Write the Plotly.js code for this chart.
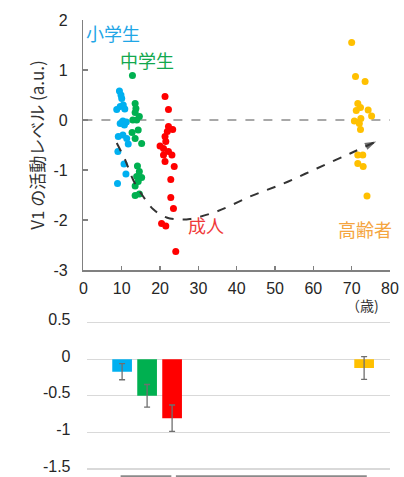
<!DOCTYPE html>
<html>
<head>
<meta charset="utf-8">
<script src="https://cdn.plot.ly/plotly-3.0.1.min.js"></script>
<style>html,body{margin:0;padding:0;background:#fff;}#chart{width:404px;height:477px;}</style>
</head>
<body>
<div id="chart"></div>
<script>
// ---- data ----
const elemX = [9.4, 9.8, 10.0, 8.7, 9.6, 10.4, 10.8, 10.3, 10.7, 9.6, 11.2, 9.1, 10.3, 11.3, 11.7, 9.0, 10.6, 11.1, 8.9];
const elemY = [0.58, 0.50, 0.43, 0.21, 0.27, 0.30, 0.22, -0.02, -0.10, -0.07, -0.04, -0.33, -0.30, -0.37, -0.48, -0.63, -0.88, -1.08, -1.27];
const juniorX = [12.8, 13.5, 13.7, 13.5, 14.6, 13.9, 12.9, 14.3, 12.7, 13.5, 15.2, 14.1, 14.6, 15.2, 13.9, 14.3, 13.5, 14.6, 13.5];
const juniorY = [0.89, 0.33, 0.23, 0.15, 0.07, 0.00, 0.00, -0.20, -0.25, -0.37, -0.47, -0.92, -1.03, -1.15, -1.13, -1.23, -1.32, -1.48, -1.51];
const adultX = [21.3, 22.2, 22.2, 23.3, 21.9, 21.3, 21.5, 20.0, 20.9, 22.2, 23.1, 20.9, 21.3, 23.7, 22.8, 22.8, 23.5, 20.4, 21.5, 24.1];
const adultY = [0.47, 0.21, -0.13, -0.19, -0.23, -0.33, -0.43, -0.52, -0.57, -0.63, -0.70, -0.70, -0.83, -0.93, -1.19, -1.55, -1.77, -2.07, -2.12, -2.63];
const elderX = [70.0, 71.0, 73.5, 71.6, 72.3, 71.2, 74.3, 75.2, 72.4, 70.7, 72.0, 72.3, 71.6, 72.9, 71.6, 73.0, 74.0];
const elderY = [1.55, 0.87, 0.77, 0.33, 0.25, 0.19, 0.20, 0.08, 0.03, -0.02, -0.07, -0.19, -0.70, -0.70, -0.87, -0.93, -1.52];

const trendX = [8.7, 10.9, 13.0, 15.6, 18.3, 21.7, 25.2, 27.8, 34.8, 43.5, 52.2, 60.9, 69.6, 76.4];
const trendY = [-0.46, -0.80, -1.20, -1.53, -1.79, -1.95, -1.99, -1.98, -1.83, -1.53, -1.27, -0.97, -0.67, -0.43];

const groupNames = ['小学生', '中学生', '成人', '高齢者'];
const groupColors = ['#00b0f0', '#00b050', '#ff0000', '#ffc000'];
const labelColors = ['#1fa6e6', '#12a84e', '#f03a3a', '#f5a540'];
const barX = [9.4, 16.0, 22.6, 73.3];
const barMeans = [-0.17, -0.50, -0.805, -0.12];
const barErrors = [0.11, 0.155, 0.18, 0.155];

const topYTicks = [-3, -2, -1, 0, 1, 2];
const topYTickText = ['-3', '-2', '-1', '0', '1', '2'];
const topXTicks = [0, 10, 20, 30, 40, 50, 60, 70, 80];
const botYTicks = [-1.5, -1, -0.5, 0, 0.5];
const botYTickText = ['-1.5', '-1', '-0.5', '0', '0.5'];

// ---- layout helpers ----
const W = 404, H = 477;
const px = v => v / W;
const py = v => 1 - v / H;
const latin = 'Liberation Sans, Arial, sans-serif';
const cjk = 'Noto Sans CJK JP, sans-serif';

function pts(x, y, c, name) {
  return {type: 'scatter', mode: 'markers', x: x, y: y, name: name,
    marker: {color: c, size: 7}, xaxis: 'x', yaxis: 'y', showlegend: false, hoverinfo: 'skip'};
}

const arrowSizes = trendX.map((v, i) => i === trendX.length - 1 ? 12 : 0);

const traces = [
  {type: 'scatter', mode: 'lines', x: [0, 80], y: [0, 0], line: {color: '#8c8c8c', width: 1.3, dash: 'dash'},
   xaxis: 'x', yaxis: 'y', showlegend: false, hoverinfo: 'skip'},
  pts(elemX, elemY, groupColors[0], groupNames[0]),
  pts(juniorX, juniorY, groupColors[1], groupNames[1]),
  pts(adultX, adultY, groupColors[2], groupNames[2]),
  pts(elderX, elderY, groupColors[3], groupNames[3]),
  {type: 'scatter', mode: 'lines+markers', x: trendX, y: trendY,
   line: {color: '#333333', width: 2, dash: 'dash', shape: 'spline'},
   marker: {symbol: 'arrow', angleref: 'previous', size: arrowSizes, color: '#333333', line: {width: 0}},
   xaxis: 'x', yaxis: 'y', showlegend: false, hoverinfo: 'skip'},
  {type: 'bar', x: barX, y: barMeans, width: 5.2, marker: {color: groupColors, line: {width: 0}},
   error_y: {type: 'data', array: barErrors, visible: true, color: '#6f6f6f', thickness: 1.3, width: 3},
   xaxis: 'x2', yaxis: 'y2', showlegend: false, hoverinfo: 'skip'}
];

const axisFont = {family: latin, size: 16, color: '#262626'};

const layout = {
  width: W, height: H,
  margin: {l: 0, r: 0, t: 0, b: 0},
  paper_bgcolor: '#ffffff', plot_bgcolor: 'rgba(0,0,0,0)',
  showlegend: false,
  xaxis: {domain: [px(83.4), px(390)], range: [0, 80], tickvals: topXTicks, ticks: 'inside', ticklen: 4,
    tickcolor: '#808080', tickwidth: 1.2, showline: true, linecolor: '#808080', linewidth: 1.5,
    showgrid: false, zeroline: false, anchor: 'y', tickfont: axisFont, ticklabelstandoff: 3},
  yaxis: {domain: [py(270), py(20)], range: [-3, 2], tickvals: topYTicks, ticktext: topYTickText,
    ticks: 'inside', ticklen: 5, tickcolor: '#808080', tickwidth: 1.2, showline: true, linecolor: '#808080',
    linewidth: 1.5, showgrid: false, zeroline: false, anchor: 'x', tickfont: axisFont, ticklabelstandoff: 11,
    title: {text: 'V1 の活動レベル (a.u.)', font: {family: cjk, size: 17, color: '#333333'}, standoff: 4}},
  xaxis2: {domain: [px(86.5), px(389.5)], range: [0, 80], visible: false, anchor: 'y2'},
  yaxis2: {domain: [py(470.5), py(321.2)], range: [-1.52, 0.52], tickvals: botYTicks, ticktext: botYTickText,
    showgrid: true, gridcolor: '#d9d9d9', gridwidth: 1.2, zeroline: true, zerolinecolor: '#d9d9d9', zerolinewidth: 1.2,
    showline: false, ticks: '', anchor: 'x2', tickfont: axisFont, ticklabelstandoff: 15,
    ticklabeloverflow: 'allow', ticklabelshift: -3},
  annotations: [
    {x: 7.7, y: 1.74, xref: 'x', yref: 'y', text: groupNames[0], showarrow: false, font: {family: cjk, size: 18, color: labelColors[0]}},
    {x: 16.7, y: 1.2, xref: 'x', yref: 'y', text: groupNames[1], showarrow: false, font: {family: cjk, size: 18, color: labelColors[1]}},
    {x: 32, y: -2.1, xref: 'x', yref: 'y', text: groupNames[2], showarrow: false, font: {family: cjk, size: 18, color: labelColors[2]}},
    {x: 73.6, y: -2.18, xref: 'x', yref: 'y', text: groupNames[3], showarrow: false, font: {family: cjk, size: 18, color: labelColors[3]}},
    {x: px(381), y: py(305), xref: 'paper', yref: 'paper', text: '（歳)', showarrow: false,
     font: {family: cjk, size: 14, color: '#333333'}}
  ],
  shapes: [
    {type: 'line', xref: 'x2', yref: 'paper', x0: 9.0, x1: 22.4, y0: py(476.3), y1: py(476.3), line: {color: '#8a8a8a', width: 2}},
    {type: 'line', xref: 'x2', yref: 'paper', x0: 23.6, x1: 74.0, y0: py(476.3), y1: py(476.3), line: {color: '#8a8a8a', width: 2}}
  ]
};

Plotly.newPlot('chart', traces, layout, {staticPlot: true, displayModeBar: false});
</script>
</body>
</html>
